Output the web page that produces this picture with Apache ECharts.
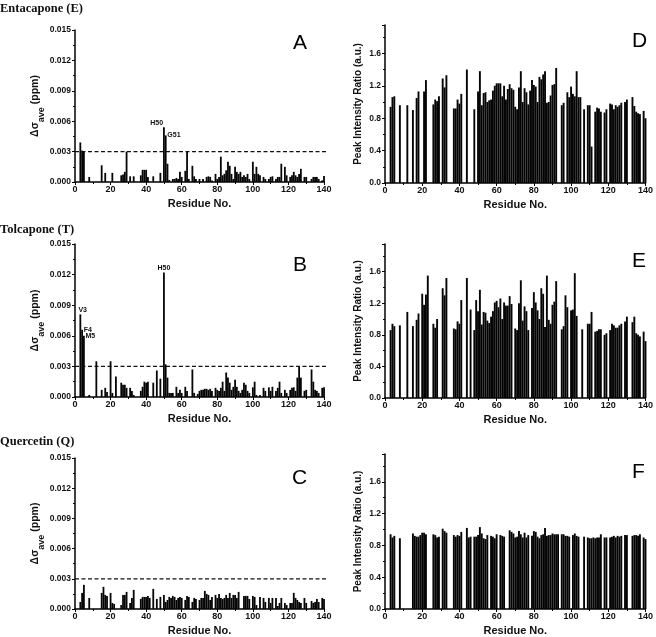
<!DOCTYPE html>
<html>
<head>
<meta charset="utf-8">
<script src="https://cdn.jsdelivr.net/npm/echarts@6/dist/echarts.min.js"></script>
<style>html,body{margin:0;padding:0;background:#fff}#c{width:656px;height:637px}</style>
</head>
<body>
<div id="c"></div>
<script>
// ---------- DATA (index 0 = residue 1; 0 = not observed) ----------
const residueTicks = [0, 20, 40, 60, 80, 100, 120, 140];
const cspTicks = [0.000, 0.003, 0.006, 0.009, 0.012, 0.015];
const ratioTicks = [0.0, 0.4, 0.8, 1.2, 1.6];
const cspThreshold = 0.003;
const thresholdSpan = [0, 143];

// Entacapone chemical shift perturbation (panel A)
const cspE = [
0,0,0.0039,0.0031,0.0030,0,0,0.0005,0,0,
0,0,0,0,0.00165,0,0.0009,0,0,0,
0.0009,0,0,0,0,0.00066,0.00075,0.0010,0.0030,0,
0.00056,0,0.00056,0,0,0,0.00066,0.0012,0.0012,0.0012,
0.0005,0,0,0.00056,0,0,0,0.0009,0,0.0054,
0.0046,0.0018,0.0002,0,0.0003,0.0003,0.0004,0.0003,0.0010,0.0005,
0,0.0011,0.0030,0.0003,0,0.0016,0.00056,0.0003,0,0.0003,
0,0.0003,0,0.0005,0.00056,0.0005,0.00016,0,0.0008,0.0003,
0.0005,0.0025,0.00066,0.0008,0.00115,0.0020,0.0016,0.0008,0.0003,0.0015,
0.0010,0.0008,0.0010,0.0005,0.00066,0.0005,0.0008,0.0003,0,0.0020,
0.0008,0.0015,0.0008,0.00066,0,0.0005,0.0003,0,0.0003,0.0005,
0.00056,0,0.0003,0.0005,0.0005,0.0018,0,0.0015,0.00066,0,
0.0005,0.00066,0.0010,0.00066,0.0005,0.0008,0.0013,0,0.0005,0.0005,
0,0,0.0003,0.0005,0.0005,0.0005,0.0003,0,0.00016,0.0006
];
// Tolcapone chemical shift perturbation (panel B)
const cspT = [
0,0,0.0081,0.0066,0.0060,0,0,0.0002,0,0,
0,0.0035,0,0,0.0007,0,0.0009,0.0005,0,0.0035,
0.0004,0,0.0020,0,0,0.0014,0.0012,0.0012,0.0009,0,
0.0009,0.0006,0.0002,0,0,0,0.0006,0.0010,0.0015,0.0014,
0.0015,0,0,0.0014,0,0.0026,0,0.0018,0,0.0122,
0.0032,0.0019,0.0004,0.0004,0.0004,0,0.0010,0.0004,0.0007,0.0004,
0,0.0010,0.0006,0,0,0.0027,0.0004,0,0.0003,0.0006,
0.0007,0.0007,0.0008,0.0008,0.0007,0.0008,0.0006,0,0.0009,0.0007,
0.0006,0.0009,0.0015,0.0006,0.0024,0.0019,0.0014,0.0007,0.0010,0.0017,
0.0010,0.0006,0.0004,0.0007,0.0014,0.0012,0.0006,0.0004,0,0.00095,
0.0015,0.0002,0,0.0002,0,0.0009,0.0006,0,0.00095,0.0006,
0.0010,0,0.0006,0.0009,0.0015,0.0004,0,0.0007,0.0004,0,
0.0007,0.0009,0.00095,0.0006,0.0019,0.0030,0.0019,0,0.0006,0.0007,
0,0,0.0027,0.0015,0.0007,0.0006,0.0004,0,0.0009,0.00095
];
// Quercetin chemical shift perturbation (panel C)
const cspQ = [
0,0,0.0007,0.0016,0.0024,0,0,0.0011,0,0,
0,0,0,0,0.0016,0.0022,0.0014,0.0013,0,0.0016,
0.0006,0.0005,0,0,0,0.0004,0.0014,0.0014,0.0017,0,
0.0006,0.0011,0.0019,0,0,0,0.0010,0.0012,0.0012,0.0012,
0.0013,0.0011,0,0.0020,0,0.0010,0,0.0012,0,0.0014,
0.0007,0.0009,0.0012,0.0011,0.0013,0.0012,0.0009,0.0011,0.0012,0.0011,
0,0.0009,0.0013,0.0012,0,0.0007,0.0011,0.0010,0,0.0009,
0.0011,0.0011,0.0018,0.0015,0.0014,0.0009,0.0012,0,0.0014,0.0011,
0.0015,0.0011,0.0010,0.0011,0.0014,0.0011,0.0016,0.0011,0.0014,0.0014,
0.0011,0.0017,0,0,0.0013,0.0013,0.0013,0.0010,0,0.0013,
0.0012,0.0004,0,0.0012,0,0.0011,0.0007,0,0.0011,0.0006,
0.0011,0,0.0011,0.0003,0.0006,0.0011,0,0.0006,0.0004,0,
0.0006,0.0006,0.0016,0.0011,0.0009,0.0007,0.0006,0,0.0011,0.0006,
0,0,0.0008,0.0006,0.0007,0.0010,0.0007,0,0.0011,0.0010
];
// Peak intensity ratios (panels D, E, F)
const ratioE = [
0,0,0.94,1.06,1.07,0,0,0.96,0,0,
0,0.96,0,0,0.90,0,1.05,1.13,0,0,
1.13,1.27,0,0,0,0.97,1.03,1.01,1.07,0,
1.29,1.18,1.33,0,0,0,0.92,0.92,1.03,0.98,
1.10,0,0,1.40,0,0,0,0.91,0,1.13,
1.38,0.96,1.11,1.12,1.00,1.02,1.03,1.14,1.20,1.23,
1.23,1.23,1.07,1.20,1.03,1.16,1.22,1.17,1.15,0.94,
0.91,1.18,1.38,1.00,1.17,1.12,0.97,1.14,1.27,1.21,
1.19,1.00,1.31,1.28,1.34,1.38,0.99,1.00,1.08,1.21,
1.22,1.42,0,0,0.96,0.99,0,1.12,1.06,1.19,
1.10,1.07,1.38,1.06,1.06,0,0.91,0,0.96,0.96,
0.45,0,0.88,0.93,0.92,0.88,0,0.87,0.91,0,
0.98,0.97,0.91,0.96,0.94,0.96,0.99,0,1.00,1.03,
0,0,1.06,0.95,0.88,0.86,0.85,0,0.89,0.80
];
const ratioT = [
0,0,0.86,0.94,0.91,0,0,0.92,0,0,
0,1.09,0,0,0.91,0,0.99,1.07,0,1.32,
1.18,1.31,1.55,0,0,0.94,0.89,1.00,0,0,
1.39,1.30,1.52,0,0,0,0.88,0.87,0.97,0.94,
1.24,0,0,1.52,0,1.12,0,0.86,1.24,1.10,
1.37,0.93,1.09,1.08,0.98,0.95,1.03,1.10,1.21,1.23,
1.15,1.26,1.00,1.21,1.17,1.17,1.29,1.19,0,0.88,
0.86,1.20,1.49,0.98,1.16,1.10,0.86,0,1.14,1.34,
1.21,1.11,1.00,1.39,1.32,0.90,1.55,0.99,0.94,1.18,
1.22,1.48,0,0,0.87,0.91,1.30,1.15,0,1.11,
1.12,1.58,1.04,0,0,0.87,0,0,0.94,0.94,
1.09,0,0.84,0.85,0.87,0.87,0,0.80,0.82,0,
0.86,0.94,0.92,0.89,0.89,0.92,0.94,0,0.97,1.03,
0,0,0.96,1.03,0.82,0.80,0.78,0,0.84,0.72
];
const ratioQ = [
0,0,0.94,0.90,0.92,0,0,0.89,0,0,
0,0,0,0,0.95,0.92,0.91,0.91,0.93,0.96,
0.96,0.94,0,0,0,0.94,0.93,0.90,0.91,0,
1.01,0.98,0.96,0,0,0,0.93,0.91,0.93,0.92,
0.97,0,0,1.02,0.90,0.91,0,0.91,0.91,0.93,
1.03,0.95,0.89,0.88,0.93,0,0.92,0.91,0.89,0.94,
0,0.93,0.92,0.91,0,0,0.99,0.97,0.95,0.90,
0.91,0.98,0.94,0.90,0.96,0.90,0.93,0,0.92,0.98,
0.97,0.91,0.89,0.93,0.94,1.02,0.92,0.93,0.93,0.95,
0.94,0.94,0.94,0,0.94,0.94,0.92,0.92,0.91,0,
0.93,0.95,0.92,0.91,0,0,0.91,0,0.90,0.89,
0.89,0.90,0.89,0.90,0.90,0.94,0,0.90,0.90,0,
0.90,0.91,0.92,0.90,0.92,0.91,0.92,0,0.93,0.93,
0,0,0.92,0.93,0.93,0.92,0.94,0,0.90,0.88
];
// residue annotations
const annE = {50: 'H50', 51: 'G51'};
const annT = {3: 'V3', 4: 'F4', 5: 'M5', 50: 'H50'};
const annQ = {};

const compoundTitles = ['Entacapone (E)', 'Tolcapone (T)', 'Quercetin (Q)'];
const panelLetters = ['A', 'B', 'C', 'D', 'E', 'F'];
const cspName = 'Δσ';
const cspSub = 'ave';
const cspUnit = ' (ppm)';
const ratioName = 'Peak Intensity Ratio (a.u.)';
const xName = 'Residue No.';

// ---------- LAYOUT / STYLE ----------
const FONT = 'Liberation Sans, Arial, sans-serif';
const leftGrids = [{top: 30, height: 152}, {top: 244, height: 153}, {top: 458, height: 155}];
const rightGrids = [{top: 25, height: 158}, {top: 244, height: 154}, {top: 454, height: 156}];
const labelPlace = {
  'E50': {position: [0, -1], align: 'right', verticalAlign: 'bottom'},
  'E51': {position: [2.5, 0], align: 'left', verticalAlign: 'middle'},
  'T3': {position: [-1, -1], align: 'left', verticalAlign: 'bottom'},
  'T4': {position: [2.5, 0], align: 'left', verticalAlign: 'middle'},
  'T5': {position: [2.5, 0], align: 'left', verticalAlign: 'middle'},
  'T50': {position: 'top', distance: 1}
};

const grids = [], xAxes = [], yAxes = [], series = [];

function xAxisCfg(gi) {
  return {
    gridIndex: gi, type: 'value', min: 0, max: 140, interval: 20,
    name: xName, nameLocation: 'middle', nameGap: 16,
    nameTextStyle: {fontFamily: FONT, fontWeight: 'bold', fontSize: 11, color: '#111'},
    axisLine: {lineStyle: {color: '#000', width: 1.5}},
    axisTick: {show: true, inside: false, length: 3, lineStyle: {color: '#000', width: 1}},
    minorTick: {show: true, splitNumber: 2, length: 2, lineStyle: {color: '#000'}},
    splitLine: {show: false},
    axisLabel: {fontFamily: FONT, fontWeight: 'bold', fontSize: 9, color: '#111', margin: 3,
      formatter: v => residueTicks.includes(v) ? String(v) : ''}
  };
}

const cspSets = [[cspE, annE, 'E'], [cspT, annT, 'T'], [cspQ, annQ, 'Q']];
const ratioSets = [ratioE, ratioT, ratioQ];

cspSets.forEach(([vals, ann, key], i) => {
  const gi = grids.length;
  grids.push({left: 75, width: 249, top: leftGrids[i].top, height: leftGrids[i].height});
  xAxes.push(xAxisCfg(gi));
  yAxes.push({
    gridIndex: gi, type: 'value', min: 0, max: 0.015, interval: 0.003,
    name: '{a|' + cspName + '}{s|' + cspSub + '}{a|' + cspUnit + '}',
    nameLocation: 'middle', nameGap: 33,
    nameTextStyle: {rich: {
      a: {fontFamily: FONT, fontWeight: 'bold', fontSize: 10.5, color: '#111'},
      s: {fontFamily: FONT, fontWeight: 'bold', fontSize: 9, color: '#111', verticalAlign: 'bottom', padding: [0, 0, -5, 0]}
    }},
    axisLine: {show: true, lineStyle: {color: '#000', width: 1.5}},
    axisTick: {show: true, inside: false, length: 3, lineStyle: {color: '#000'}},
    minorTick: {show: true, splitNumber: 2, length: 2, lineStyle: {color: '#000'}},
    splitLine: {show: false},
    axisLabel: {fontFamily: FONT, fontWeight: 'bold', fontSize: 8.5, color: '#111', margin: 4,
      formatter: v => v.toFixed(3)}
  });
  const data = [];
  vals.forEach((v, idx) => {
    const r = idx + 1;
    if (!v) return;
    const item = {value: [r, v]};
    if (ann[r]) {
      const p = labelPlace[key + r] || {position: 'top'};
      item.label = Object.assign({show: true, formatter: ann[r], fontFamily: FONT, fontWeight: 'bold',
        fontSize: 7, color: '#111'}, p);
    }
    data.push(item);
  });
  series.push({
    type: 'bar', xAxisIndex: gi, yAxisIndex: gi, barWidth: 1.8, data,
    itemStyle: {color: '#050505'}, silent: true, animation: false
  });
  // dashed threshold line
  series.push({
    type: 'line', xAxisIndex: gi, yAxisIndex: gi, silent: true, animation: false,
    symbol: 'none', clip: false, z: 5,
    lineStyle: {type: [4, 2.5], color: '#111', width: 1.2},
    data: thresholdSpan.map(x => [x, cspThreshold])
  });
});

ratioSets.forEach((vals, i) => {
  const gi = grids.length;
  grids.push({left: 385, width: 262, top: rightGrids[i].top, height: rightGrids[i].height});
  xAxes.push(xAxisCfg(gi));
  yAxes.push({
    gridIndex: gi, type: 'value', min: 0, max: 1.95, interval: 0.4,
    name: ratioName, nameLocation: 'middle', nameGap: 22,
    nameTextStyle: {fontFamily: FONT, fontWeight: 'bold', fontSize: 10, color: '#111'},
    axisLine: {show: true, lineStyle: {color: '#000', width: 1.5}},
    axisTick: {show: true, inside: false, length: 3, lineStyle: {color: '#000'}},
    minorTick: {show: true, splitNumber: 2, length: 2, lineStyle: {color: '#000'}},
    splitLine: {show: false},
    axisLabel: {fontFamily: FONT, fontWeight: 'bold', fontSize: 8.5, color: '#111', margin: 4,
      formatter: v => ratioTicks.some(t => Math.abs(t - v) < 1e-6) ? v.toFixed(1) : ''}
  });
  const data = [];
  vals.forEach((v, idx) => { if (v) data.push([idx + 1, v]); });
  series.push({type: 'bar', xAxisIndex: gi, yAxisIndex: gi, barWidth: 1.9, data,
    itemStyle: {color: '#050505'}, silent: true, animation: false});
});

const titles = [];
const titleTops = [2, 223, 435];
compoundTitles.forEach((t, i) => titles.push({text: t, left: 0, top: titleTops[i], padding: 0,
  textStyle: {fontFamily: 'Liberation Serif, Times New Roman, serif', fontWeight: 'bold', fontSize: 12.5, color: '#111'}}));
const letterPos = [[293, 33], [293, 255], [292, 468], [632, 31], [632, 251], [632, 462]];
panelLetters.forEach((t, i) => titles.push({text: t, left: letterPos[i][0], top: letterPos[i][1], padding: 0,
  textStyle: {fontFamily: FONT, fontWeight: 'normal', fontSize: 21, color: '#000'}}));

const chart = echarts.init(document.getElementById('c'), null, {renderer: 'canvas'});
chart.setOption({animation: false, backgroundColor: '#fff', title: titles, grid: grids,
  xAxis: xAxes, yAxis: yAxes, series});
</script>
</body>
</html>
